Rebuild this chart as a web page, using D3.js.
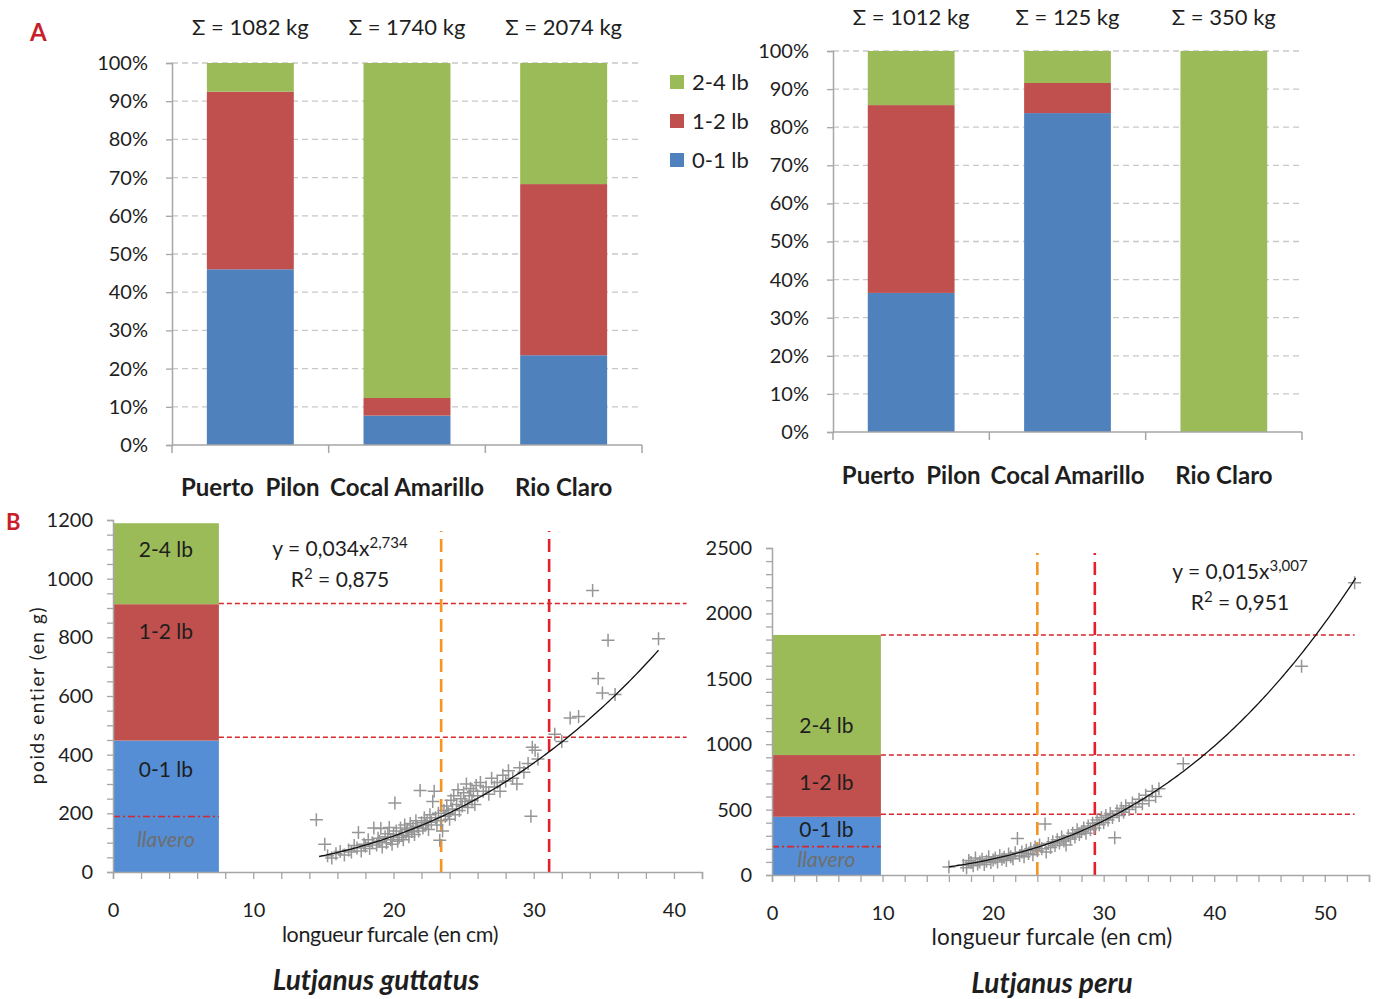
<!DOCTYPE html>
<html><head><meta charset="utf-8">
<script src="https://cdn.jsdelivr.net/npm/d3@7"></script>
<style>
body{margin:0;background:#fff;}
svg{font-family:Lato,"Open Sans",sans-serif;}
text{white-space:pre;}
</style></head>
<body>
<svg id="c" width="1378" height="999"></svg>
<script>
// ---------- DATA ----------
const sizeClasses = ["0-1 lb","1-2 lb","2-4 lb"];
const classColors = ["#4F81BD","#C0504D","#9BBB59"];
const sites = ["Puerto  Pilon","Cocal Amarillo","Rio Claro"];
// chart A left: shares (fraction) per class
const leftShare01 = [0.46, 0.077, 0.235];
const leftShare12 = [0.465, 0.046, 0.448];
const leftShare24 = [0.075, 0.877, 0.317];
const leftTotals = ["Σ = 1082 kg","Σ = 1740 kg","Σ = 2074 kg"];
// chart A right
const rightShare01 = [0.365, 0.837, 0.0];
const rightShare12 = [0.493, 0.079, 0.0];
const rightShare24 = [0.142, 0.084, 1.0];
const rightTotals = ["Σ = 1012 kg","Σ = 125 kg","Σ = 350 kg"];
const pctTicks = [0,0.1,0.2,0.3,0.4,0.5,0.6,0.7,0.8,0.9,1.0];

// chart B: Lutjanus guttatus (x = cm, y = g)
const guttatusPoints = [[14.5,178],[15.1,95],[15.3,55],[15.6,48],[15.9,62],[16.2,70],[16.5,58],[16.8,75],[17.0,68],[17.2,90],[17.4,82],[17.5,135],[17.7,72],[17.9,95],[18.0,88],[18.2,110],[18.3,80],[18.5,100],[18.6,150],[18.8,92],[18.9,115],[19.0,105],[19.1,148],[19.2,85],[19.4,120],[19.5,100],[19.6,130],[19.7,152],[19.8,110],[19.9,95],[20.0,128],[20.1,235],[20.2,140],[20.3,105],[20.4,118],[20.5,150],[20.6,125],[20.7,110],[20.8,160],[20.9,135],[21.0,145],[21.1,120],[21.2,165],[21.3,138],[21.4,150],[21.5,128],[21.6,175],[21.7,155],[21.8,140],[21.9,278],[22.0,168],[22.1,150],[22.2,185],[22.3,160],[22.4,175],[22.5,145],[22.6,195],[22.7,170],[22.8,240],[22.9,275],[23.0,185],[23.1,160],[23.2,200],[23.3,108],[23.4,175],[23.5,140],[23.6,210],[23.7,190],[23.8,225],[23.9,200],[24.0,180],[24.1,245],[24.2,215],[24.3,260],[24.4,195],[24.5,230],[24.6,280],[24.7,210],[24.8,250],[24.9,225],[25.0,270],[25.1,240],[25.2,300],[25.3,220],[25.4,260],[25.5,285],[25.6,245],[25.7,275],[25.8,230],[25.9,295],[26.0,260],[26.2,305],[26.4,275],[26.6,290],[26.8,265],[27.0,320],[27.2,290],[27.4,305],[27.6,275],[27.8,330],[28.0,310],[28.2,345],[28.5,320],[28.8,300],[29.0,355],[29.3,340],[29.6,370],[29.8,190],[29.9,425],[30.1,415],[30.3,385],[31.5,470],[32.0,445],[32.6,525],[33.2,530],[34.2,960],[34.6,660],[34.9,610],[35.3,790],[35.8,605],[38.9,795]];
const guttatusFit = [0.034, 2.734, 14.7, 39.0]; // a, b, xmin, xmax
const guttatusClassBounds = [0, 448, 913, 1189]; // stacked bar
const guttatusClassLines = [459, 915];
const guttatusLlavero = 189;
const guttatusSizeLimits = [23.4, 31.1]; // orange, red
const guttatusXTicks = [0,10,20,30,40];
const guttatusYTicks = [0,200,400,600,800,1000,1200];

// Lutjanus peru
const peruPoints = [[16.0,62],[17.3,75],[17.6,55],[17.8,110],[18.0,95],[18.2,70],[18.4,130],[18.6,85],[18.8,100],[19.0,120],[19.2,80],[19.4,105],[19.6,140],[19.8,95],[20.0,115],[20.2,130],[20.4,100],[20.6,150],[20.8,120],[21.0,135],[21.2,110],[21.4,160],[21.6,140],[21.8,125],[22.0,170],[22.2,280],[22.4,150],[22.6,175],[22.8,140],[23.0,190],[23.2,165],[23.4,200],[23.6,155],[23.8,215],[24.0,185],[24.2,230],[24.4,200],[24.7,390],[24.8,175],[25.0,240],[25.2,210],[25.4,255],[25.6,225],[25.8,270],[26.0,245],[26.2,290],[26.4,260],[26.6,230],[26.8,300],[27.0,275],[27.2,320],[27.4,290],[27.6,345],[27.8,310],[28.0,330],[28.2,360],[28.4,320],[28.6,375],[28.8,345],[29.0,395],[29.2,360],[29.4,420],[29.6,385],[29.8,440],[30.0,400],[30.2,455],[30.4,420],[30.6,470],[30.8,440],[31.0,285],[31.2,490],[31.4,455],[31.6,510],[31.8,480],[32.0,530],[32.3,500],[32.6,550],[32.9,520],[33.2,580],[33.5,545],[33.8,610],[34.1,570],[34.4,640],[34.7,600],[35.0,660],[37.2,850],[47.9,1595],[52.7,2235]];
const peruFit = [0.015, 3.007, 16.0, 52.8];
const peruClassBounds = [0, 445, 917, 1835];
const peruClassLines = [465, 917, 1835];
const peruLlavero = 217;
const peruSizeLimits = [24.0, 29.2];
const peruXTicks = [0,10,20,30,40,50];
const peruYTicks = [0,500,1000,1500,2000,2500];

// ---------- DRAW ----------
const svg = d3.select("#c");
const AX = "#A6A6A6", GRID = "#C8C8C8", TXT = "#1E1E1E";

svg.append("text").attr("x",30).attr("y",41).attr("font-size",24).attr("font-weight","bold").attr("fill","#C8202B").text("A");
svg.append("text").attr("x",6).attr("y",530).attr("font-size",22).attr("font-weight","bold").attr("fill","#C8202B").text("B");

function stackedChart(o){
  const g = svg.append("g");
  const x = d3.scaleBand().domain(sites).range([o.x0,o.x1]).paddingInner(0.445).paddingOuter(0.2225);
  const y = d3.scaleLinear().domain([0,1]).range([o.y0,o.y1]);
  g.selectAll(".gr").data(pctTicks.filter(d=>d>0)).join("line")
    .attr("x1",o.x0).attr("x2",o.x1).attr("y1",d=>y(d)).attr("y2",d=>y(d))
    .attr("stroke",GRID).attr("stroke-width",1.3).attr("stroke-dasharray","6,4");
  const rows = sites.map((s,i)=>({s, v:[o.s01[i],o.s12[i],o.s24[i]]}));
  rows.forEach(r=>{
    let acc=0;
    r.v.forEach((v,k)=>{
      if(v>0){
        g.append("rect").attr("x",x(r.s)).attr("width",x.bandwidth())
          .attr("y",y(Math.min(1,acc+v))).attr("height",y(acc)-y(Math.min(1,acc+v))).attr("fill",classColors[k]);
      }
      acc+=v;
    });
  });
  const ya = d3.axisLeft(y).tickValues(pctTicks).tickFormat(d3.format(".0%")).tickSize(6).tickPadding(18);
  const yg = g.append("g").attr("transform",`translate(${o.x0},0)`).call(ya);
  yg.select(".domain").attr("stroke",AX).attr("stroke-width",1.5);
  yg.selectAll(".tick line").attr("stroke",AX).attr("stroke-width",1.3);
  yg.selectAll("text").attr("font-size",20).attr("fill",TXT).attr("font-family","Lato");
  g.append("line").attr("x1",o.x0).attr("x2",o.x1).attr("y1",o.y0).attr("y2",o.y0).attr("stroke",AX).attr("stroke-width",1.5);
  const bounds = [o.x0].concat(sites.map(s=>x(s)+x.bandwidth()+x.step()*x.paddingInner()/2));
  bounds[3]=o.x1;
  g.selectAll(".bt").data(bounds).join("line").attr("x1",d=>d).attr("x2",d=>d)
    .attr("y1",o.y0).attr("y2",o.y0+8).attr("stroke",AX).attr("stroke-width",1.5);
  g.selectAll(".cl").data(sites).join("text").attr("x",d=>x(d)+x.bandwidth()/2).attr("y",o.catY)
    .attr("text-anchor","middle").attr("font-size",24).attr("font-weight","bold").attr("fill",TXT).text(d=>d);
  g.selectAll(".tl").data(o.totals).join("text").attr("x",(d,i)=>x(sites[i])+x.bandwidth()/2).attr("y",o.totY)
    .attr("text-anchor","middle").attr("font-size",22).attr("fill",TXT).text(d=>d);
}
stackedChart({x0:172,x1:642,y0:445,y1:63,s01:leftShare01,s12:leftShare12,s24:leftShare24,totals:leftTotals,catY:496,totY:35});
stackedChart({x0:833,x1:1302,y0:432,y1:51,s01:rightShare01,s12:rightShare12,s24:rightShare24,totals:rightTotals,catY:484,totY:25});

// legend
const legOrder = [2,1,0];
legOrder.forEach((k,i)=>{
  const cy = 82 + i*39;
  svg.append("rect").attr("x",670).attr("y",cy-7).attr("width",14).attr("height",14).attr("fill",classColors[k]);
  svg.append("text").attr("x",692).attr("y",cy+8).attr("font-size",22).attr("fill",TXT).text(sizeClasses[k]);
});

function scatterChart(o){
  const g = svg.append("g");
  const x = d3.scaleLinear().domain(o.xd).range([o.x0,o.x1]);
  const y = d3.scaleLinear().domain(o.yd).range([o.y0,o.y1]);
  const barC = ["#558ED5","#C0504D","#9BBB59"];
  for(let k=0;k<3;k++){
    g.append("rect").attr("x",x(0)).attr("width",x(o.barW)-x(0))
      .attr("y",y(o.bounds[k+1])).attr("height",y(o.bounds[k])-y(o.bounds[k+1])).attr("fill",barC[k]);
  }
  g.append("line").attr("x1",x(0)).attr("x2",x(o.barW)).attr("y1",y(o.llavero)).attr("y2",y(o.llavero))
    .attr("stroke","#D7262C").attr("stroke-width",1.6).attr("stroke-dasharray","7,3,2,3");
  const cx = (x(0)+x(o.barW))/2;
  o.labels.forEach(l=>{
    g.append("text").attr("x",cx).attr("y",l.y).attr("text-anchor","middle").attr("font-size",21)
      .attr("fill",l.it?"#6E6E6E":TXT).attr("font-style",l.it?"italic":"normal").text(l.t);
  });
  o.hlines.forEach(v=>{
    g.append("line").attr("x1",x(o.barW)).attr("x2",x(o.hEnd)).attr("y1",y(v)).attr("y2",y(v))
      .attr("stroke","#D7262C").attr("stroke-width",1.5).attr("stroke-dasharray","5,3");
  });
  const vcol = ["#F7941D","#E5202A"];
  o.vlines.forEach((v,i)=>{
    g.append("line").attr("x1",x(v)).attr("x2",x(v)).attr("y1",y(0)).attr("y2",o.vTop)
      .attr("stroke",vcol[i]).attr("stroke-width",2.6).attr("stroke-dasharray","13,7");
  });
  g.selectAll(".p").data(o.pts).join("path")
    .attr("d",d=>{const px=x(d[0]),py=y(d[1]);return `M${px-6.5},${py}H${px+6.5}M${px},${py-6.5}V${py+6.5}`;})
    .attr("stroke","#969696").attr("stroke-width",1.5).attr("fill","none");
  const [a,b,xa,xb] = o.fit;
  const xs = d3.range(xa, xb+0.001, 0.2);
  g.append("path").datum(xs).attr("d",d3.line().x(d=>x(d)).y(d=>y(a*Math.pow(d,b))))
    .attr("fill","none").attr("stroke","#111").attr("stroke-width",1.3);
  const ya = d3.axisLeft(y).tickValues(d3.range(o.yd[0],o.yd[1]+1,o.yMinor)).tickFormat(d=>o.yt.includes(d)?d:"").tickSize(6).tickPadding(14);
  const yg = g.append("g").attr("transform",`translate(${x(0)},0)`).call(ya);
  yg.select(".domain").attr("stroke",AX).attr("stroke-width",1.5);
  yg.selectAll(".tick line").attr("stroke",AX).attr("stroke-width",1.3);
  yg.selectAll("text").attr("font-size",20).attr("fill",TXT).attr("font-family","Lato");
  const xa2 = d3.axisBottom(x).tickValues(d3.range(o.xd[0],o.xd[1]+0.01,2)).tickFormat(d=>o.xt.includes(d)?d:"").tickSize(7).tickPadding(24);
  const xg = g.append("g").attr("transform",`translate(0,${y(0)})`).call(xa2);
  xg.select(".domain").attr("stroke",AX).attr("stroke-width",1.5);
  xg.selectAll(".tick line").attr("stroke",AX).attr("stroke-width",1.3);
  xg.selectAll("text").attr("font-size",20).attr("fill",TXT).attr("font-family","Lato");
  g.append("text").attr("x",o.xlx).attr("y",o.xly).attr("text-anchor","middle").attr("font-size",o.xlfs).attr("fill",TXT)
    .attr("letter-spacing",o.xlls).text("longueur furcale (en cm)");
  const eq = g.append("text").attr("x",o.eqx).attr("y",o.eqy).attr("text-anchor","middle").attr("font-size",21).attr("fill",TXT);
  eq.append("tspan").text(`y = ${o.eqA}x`);
  eq.append("tspan").attr("dy",-8).attr("font-size",15).text(o.eqB);
  const r2 = g.append("text").attr("x",o.eqx).attr("y",o.eqy+31).attr("text-anchor","middle").attr("font-size",21).attr("fill",TXT);
  r2.append("tspan").text("R");
  r2.append("tspan").attr("dy",-8).attr("font-size",15).text("2");
  r2.append("tspan").attr("dy",8).text(` = ${o.r2}`);
  g.append("text").attr("x",o.tx).attr("y",o.ty).attr("text-anchor","middle").attr("font-size",28)
    .attr("font-weight","bold").attr("font-style","italic").attr("fill",TXT).text(o.title);
}

scatterChart({xd:[0,42],x0:113,x1:702,yd:[0,1200],y0:872,y1:520,yMinor:50,xt:guttatusXTicks,yt:guttatusYTicks,
  barW:7.55,bounds:guttatusClassBounds,llavero:guttatusLlavero,hlines:guttatusClassLines,hEnd:40.9,
  vlines:guttatusSizeLimits,vTop:531,pts:guttatusPoints,fit:guttatusFit,
  labels:[{t:"2-4 lb",y:557},{t:"1-2 lb",y:639},{t:"0-1 lb",y:777},{t:"llavero",y:847,it:true}],
  xlx:390,xly:942,xlfs:21.5,xlls:-0.4,eqx:340,eqy:556,eqA:"0,034",eqB:"2,734",r2:"0,875",tx:376,ty:990,title:"Lutjanus guttatus"});

scatterChart({xd:[0,54],x0:772,x1:1369,yd:[0,2500],y0:875,y1:548,yMinor:100,xt:peruXTicks,yt:peruYTicks,
  barW:9.85,bounds:peruClassBounds,llavero:peruLlavero,hlines:peruClassLines,hEnd:52.7,
  vlines:peruSizeLimits,vTop:553,pts:peruPoints,fit:peruFit,
  labels:[{t:"2-4 lb",y:733},{t:"1-2 lb",y:790},{t:"0-1 lb",y:837},{t:"llavero",y:867,it:true}],
  xlx:1052,xly:945,xlfs:22.5,xlls:0.2,eqx:1240,eqy:579,eqA:"0,015",eqB:"3,007",r2:"0,951",tx:1052,ty:993,title:"Lutjanus peru"});

svg.append("text").attr("transform","translate(44,695) rotate(-90)").attr("text-anchor","middle")
  .attr("font-size",19).attr("letter-spacing",1.6).attr("fill",TXT).text("poids entier (en g)");
</script>
</body></html>
